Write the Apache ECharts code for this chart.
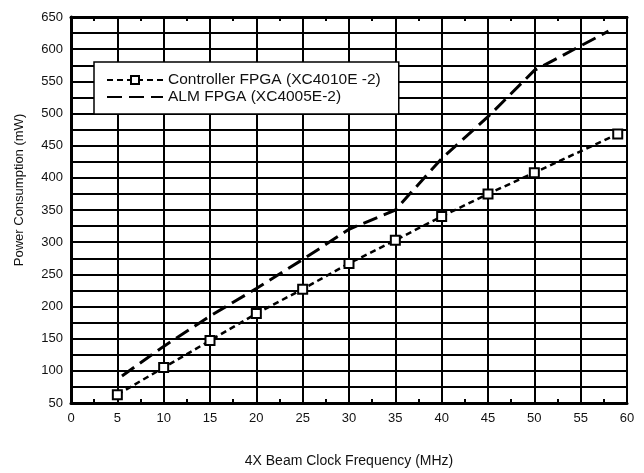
<!DOCTYPE html>
<html><head><meta charset="utf-8">
<script src="https://cdn.jsdelivr.net/npm/echarts@6/dist/echarts.min.js"></script>
<style>html,body{margin:0;padding:0;background:#fff}#c{width:644px;height:473px}</style>
</head><body><div id="c"></div>
<script>
const xTitle = '4X Beam Clock Frequency (MHz)';
const yTitle = 'Power Consumption (mW)';
const ctrlName = 'Controller FPGA (XC4010E -2)';
const almName = 'ALM FPGA (XC4005E-2)';
const ctrlX = [5, 10, 15, 20, 25, 30, 35, 40, 45, 50, 59];
const ctrlY = [63, 105, 147, 189, 227, 267, 303, 340, 375, 408, 468];
const almX = [5.5, 10, 15, 20, 25, 30, 35, 40, 45, 50, 58];
const almY = [92, 138, 185, 228, 273, 320, 350, 430, 495, 567, 628];

const chart = echarts.init(document.getElementById('c'), null, {renderer: 'canvas'});
const font = 'Liberation Sans, Arial, sans-serif';
const axisBase = {
  type: 'value', min: 0, max: 60, interval: 5,
  axisLine: {show: true, onZero: false, lineStyle: {color: '#000', width: 3}},
  axisTick: {show: false, inside: true},
  minorTick: {show: true, splitNumber: 2, length: 4, lineStyle: {color: '#000', width: 2}},
  minorSplitLine: {show: false}
};
chart.setOption({
  animation: false,
  grid: {left: 71, right: 17, top: 17, bottom: 69, show: true, borderColor: '#000', borderWidth: 2},
  graphic: [{
    type: 'text', rotation: Math.PI / 2,
    x: 19, y: 190,
    style: {text: yTitle, fontFamily: font, fontSize: 13, fill: '#111', align: 'center', verticalAlign: 'middle'}
  }],
  xAxis: [
    Object.assign({}, axisBase, {
      position: 'bottom',
      name: xTitle, nameLocation: 'middle', nameGap: 51,
      nameTextStyle: {fontFamily: font, fontSize: 14, color: '#111'},
      axisLabel: {fontFamily: font, fontSize: 13, color: '#111', margin: 9},
      splitLine: {show: true, lineStyle: {color: '#000', width: 2}}
    }),
    Object.assign({}, axisBase, {
      position: 'top',
      axisLabel: {show: false},
      splitLine: {show: false}
    })
  ],
  yAxis: {
    type: 'value', min: 50, max: 650, interval: 50,
    axisLine: {show: true, lineStyle: {color: '#000', width: 3}},
    axisTick: {show: false},
    axisLabel: {fontFamily: font, fontSize: 13, color: '#111', margin: 8},
    splitLine: {show: true, lineStyle: {color: '#000', width: 2}},
    minorTick: {show: false, splitNumber: 2},
    minorSplitLine: {show: true, lineStyle: {color: '#000', width: 2}}
  },
  legend: {
    orient: 'vertical', left: 94, top: 62,
    backgroundColor: '#fff', borderColor: '#000', borderWidth: 1.5,
    padding: [10, 18, 9, 12], itemGap: 1, itemWidth: 56, itemHeight: 10,
    textStyle: {fontFamily: font, fontSize: 15.5, color: '#111'},
    data: [
      {name: ctrlName},
      {name: almName, itemStyle: {opacity: 0}}
    ]
  },
  series: [
    {
      name: ctrlName, type: 'line', xAxisIndex: 0,
      data: ctrlX.map((x, i) => [x, ctrlY[i]]),
      symbol: 'rect', symbolSize: 9, showAllSymbol: true,
      itemStyle: {color: '#fff', borderColor: '#000', borderWidth: 2},
      lineStyle: {color: '#000', width: 2.5, type: [6, 4]},
      z: 5
    },
    {
      name: almName, type: 'line', xAxisIndex: 0,
      data: almX.map((x, i) => [x, almY[i]]),
      symbol: 'none',
      itemStyle: {color: '#000'},
      lineStyle: {color: '#000', width: 3, type: [15, 7]},
      z: 5
    }
  ]
});
</script></body></html>
